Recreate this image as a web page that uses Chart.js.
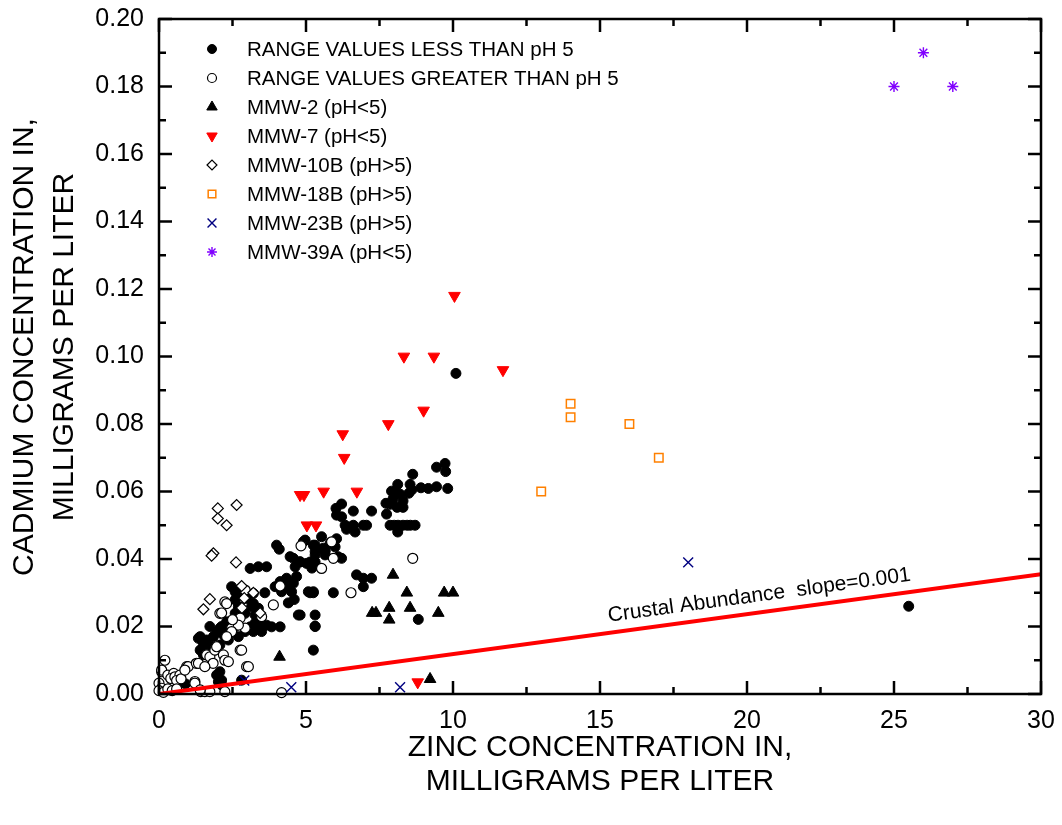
<!DOCTYPE html>
<html><head><meta charset="utf-8">
<script src="https://cdn.jsdelivr.net/npm/chart.js@4.4.1/dist/chart.umd.min.js"></script>
<style>html,body{margin:0;padding:0;background:#fff;} #wrap{width:1062px;height:825px;position:relative;}</style>
</head><body><div id="wrap"><canvas id="c" width="1062" height="825"></canvas></div>
<script>
const FONT = '"Liberation Sans", Arial, Helvetica, sans-serif';

// ---- text ----
const xTitleLines = ['ZINC CONCENTRATION IN,', 'MILLIGRAMS PER LITER'];
const yTitleLines = ['CADMIUM CONCENTRATION IN,', 'MILLIGRAMS PER LITER'];
const seriesNames = [
  'RANGE VALUES LESS THAN pH 5',
  'RANGE VALUES GREATER THAN pH 5',
  'MMW-2 (pH<5)',
  'MMW-7 (pH<5)',
  'MMW-10B (pH>5)',
  'MMW-18B (pH>5)',
  'MMW-23B (pH>5)',
  'MMW-39A (pH<5)'
];
const crustalLabel = 'Crustal Abundance  slope=0.001';

// ---- axes ----
const xMin = 0, xMax = 30, xStep = 5;
const yMin = 0, yMax = 0.20, yStep = 0.02;

// ---- data: [zinc, cadmium] ----
const rangeLow = [
 [9.73,0.0683],[9.44,0.0672],[9.75,0.0659],[8.63,0.0651],[8.12,0.0621],[8.54,0.0621],[8.91,0.0611],[9.16,0.0609],[9.44,0.0614],[9.82,0.0609],
 [7.91,0.0601],[8.03,0.0601],[8.2,0.0592],[7.96,0.0578],[8.3,0.0572],[7.86,0.0562],[8.1,0.0553],[8.3,0.0553],[8.5,0.0595],[8.6,0.0605],
 [7.72,0.0565],[7.74,0.0533],[7.86,0.050],[8.0,0.050],[8.13,0.050],[8.3,0.050],[8.44,0.050],[8.55,0.050],[8.71,0.050],[8.12,0.048],
 [6.02,0.055],[6.21,0.0563],[6.61,0.0542],[7.23,0.0542],[6.21,0.0525],[6.04,0.053],[6.33,0.050],[6.61,0.050],[6.67,0.048],[6.95,0.050],[7.06,0.050],[6.38,0.0488],[6.5,0.0495],
 [6.04,0.046],[5.82,0.0447],[5.99,0.0436],[5.65,0.0427],[5.53,0.0466],[6.09,0.0407],[6.21,0.0402],
 [4.97,0.0456],[5.25,0.0441],[5.59,0.0432],[5.31,0.0412],[5.65,0.0412],[5.14,0.0391],[5.31,0.0391],[4.8,0.0391],[5.2,0.0373],
 [4.0,0.0441],[4.09,0.0429],[4.91,0.0451],[5.31,0.0441],[5.31,0.0422],[5.65,0.0422],[4.57,0.0402],[4.8,0.0392],[5.02,0.0387],[5.31,0.0382],[4.46,0.0407],[4.63,0.0377],
 [3.1,0.0372],[3.38,0.0377],[3.66,0.0377],[2.47,0.0318],[2.64,0.0298],
 [4.12,0.0333],[4.29,0.0318],[4.57,0.0328],[4.68,0.0348],[3.95,0.0318],[4.17,0.0303],[4.51,0.0303],[4.34,0.0343],[5.08,0.0303],[5.25,0.0303],
 [3.6,0.030],[3.21,0.0298],[2.59,0.0303],[2.98,0.0283],[3.21,0.0268],[3.38,0.0254],[2.59,0.0279],[2.7,0.0259],[2.93,0.0239],[3.15,0.0259],[3.27,0.0234],[4.6,0.028],[4.4,0.027],
 [4.74,0.0234],[5.31,0.0234],[4.8,0.0234],[5.31,0.0201],[3.38,0.0204],[3.66,0.0204],[3.83,0.0199],[4.12,0.0199],[3.1,0.0199],[3.21,0.0185],
 [2.07,0.0195],[1.85,0.017],[1.62,0.016],[2.24,0.017],[2.36,0.016],[1.79,0.014],[1.9,0.013],[2.07,0.0145],[1.4,0.017],[1.5,0.014],[1.45,0.016],[1.73,0.020],[1.96,0.0185],[2.13,0.018],
 [2.02,0.0185],[2.24,0.018],[2.59,0.020],[2.7,0.017],[2.93,0.0185],[3.27,0.021],[3.49,0.0185],[1.4,0.013],[1.51,0.0116],[1.34,0.0165],
 [2.13,0.020],[2.3,0.0214],[2.59,0.0239],
 [5.25,0.013],[1.96,0.0056],[2.13,0.0041],[2.81,0.0041],[2.02,0.0036],[2.13,0.0027],[2.07,0.0066],[0.6,0.004],[0.9,0.003],
 [6.72,0.0353],[6.95,0.0343],[7.23,0.0343],[6.95,0.0318],[5.14,0.030],[5.25,0.030],[5.93,0.030],[5.31,0.020],[8.82,0.0221],
 [10.1,0.095],[25.5,0.026]
];
const rangeHigh = [
 [5.87,0.0451],[5.93,0.0402],[5.53,0.0372],[6.53,0.030],[8.63,0.0402],[4.83,0.0439],[4.12,0.032],[3.89,0.0264],
 [2.24,0.0273],[2.3,0.0268],[2.07,0.0239],[2.13,0.024],[3.49,0.0229],[2.76,0.0225],[2.93,0.0195],[2.47,0.0195],[2.7,0.0204],[2.47,0.0185],[2.3,0.017],[2.5,0.022],[2.93,0.0308],
 [2.76,0.013],[2.98,0.0081],[4.17,0.0004],
 [1.62,0.0116],[1.73,0.011],[1.9,0.013],[1.96,0.014],[2.19,0.0116],[2.24,0.010],[2.36,0.0096],[1.84,0.0091],[2.81,0.013],[3.04,0.0081],
 [0.2,0.010],[0.09,0.0066],[0.09,0.0071],[0.3,0.0056],[0.5,0.0061],[0.4,0.0046],[0.54,0.0051],[0.71,0.0056],[0.6,0.004],[0.75,0.0045],
 [0.94,0.0081],[0.99,0.0081],[0.88,0.0071],[1.27,0.0091],[1.34,0.0091],[1.56,0.0081],[1.22,0.0037],[1.22,0.0032],
 [1.42,0.0007],[1.56,0.0007],[1.73,0.0007],[2.24,0.0007],[0.0,0.0032],[0.09,0.0017],[0.0,0.001],[0.15,0.0005],[0.3,0.0015],[0.45,0.001],[0.6,0.0015],[1.4,0.0012]
];
const mmw2 = [
 [7.96,0.0353],[8.43,0.030],[9.7,0.030],[10.0,0.030],[7.25,0.024],[7.38,0.024],[7.83,0.0255],[7.83,0.022],[8.54,0.0255],[9.5,0.024],[9.22,0.0044],[4.1,0.011]
];
const mmw7 = [
 [4.8,0.059],[4.93,0.059],[5.03,0.050],[5.34,0.050],[5.6,0.060],[6.25,0.077],[6.3,0.070],[6.73,0.060],[7.8,0.080],[8.33,0.100],[9.0,0.084],[10.05,0.118],[9.35,0.100],[11.7,0.096],[8.8,0.0035]
];
const mmw10B = [
 [2.0,0.055],[2.64,0.056],[2.0,0.052],[2.3,0.050],[1.85,0.0417],[1.79,0.041],[2.62,0.039],[2.81,0.032],[3.21,0.030],[1.73,0.0281],[1.51,0.0251],[2.9,0.0284],[3.44,0.024],[2.82,0.0255]
];
const mmw18B = [[13,0.060],[14,0.082],[14,0.086],[16,0.080],[17,0.070]];
const mmw23B = [[2.9,0.004],[4.5,0.002],[8.2,0.002],[18,0.039]];
const mmw39A = [[25,0.18],[26,0.19],[27,0.18]];
const crustalLine = [[0,0],[30,0.0355]];
const crustalLabelAtX = 15.35;

const toXY = arr => arr.map(p => ({x: p[0], y: p[1]}));

const pointSpecs = [
 {pointStyle:'circle', radius:5, bg:'#000', border:'#000', bw:1, rot:0},
 {pointStyle:'circle', radius:5, bg:'#fff', border:'#000', bw:1.2, rot:0},
 {pointStyle:'triangle', radius:6.7, bg:'#000', border:'#000', bw:1, rot:0},
 {pointStyle:'triangle', radius:6.7, bg:'#ff0000', border:'#ff0000', bw:1, rot:180},
 {pointStyle:'rectRot', radius:5.5, bg:'#fff', border:'#000', bw:1.2, rot:0},
 {pointStyle:'rect', radius:6, bg:'#fff', border:'#ff8000', bw:1.5, rot:0},
 {pointStyle:'crossRot', radius:7, bg:'#000080', border:'#000080', bw:1.4, rot:0},
 {pointStyle:'star', radius:5.5, bg:'#8000ff', border:'#8000ff', bw:1.4, rot:0}
];
const seriesData = [rangeLow, rangeHigh, mmw2, mmw7, mmw10B, mmw18B, mmw23B, mmw39A];

const datasets = seriesData.map((d, i) => ({
  label: seriesNames[i],
  data: toXY(d),
  pointStyle: pointSpecs[i].pointStyle,
  pointRadius: pointSpecs[i].radius,
  pointRotation: pointSpecs[i].rot,
  pointBackgroundColor: pointSpecs[i].bg,
  pointBorderColor: pointSpecs[i].border,
  pointBorderWidth: pointSpecs[i].bw,
  showLine: false,
  clip: false,
  order: 20 - i
}));
datasets.push({
  type: 'line',
  label: 'Crustal Abundance',
  data: toXY(crustalLine),
  borderColor: '#ff0000',
  borderWidth: 4,
  pointRadius: 0,
  fill: false,
  order: 1
});

const framePlugin = {
  id: 'frame',
  afterDraw(chart) {
    const {ctx, chartArea: a, scales: {x, y}} = chart;
    ctx.save();
    // crustal label
    const p0x = x.getPixelForValue(crustalLine[0][0]), p0y = y.getPixelForValue(crustalLine[0][1]);
    const p1x = x.getPixelForValue(crustalLine[1][0]), p1y = y.getPixelForValue(crustalLine[1][1]);
    const ang = Math.atan2(p1y - p0y, p1x - p0x);
    const t = (crustalLabelAtX - crustalLine[0][0]) / (crustalLine[1][0] - crustalLine[0][0]);
    const lx = p0x + (p1x - p0x) * t, ly = p0y + (p1y - p0y) * t;
    ctx.translate(lx, ly); ctx.rotate(ang);
    ctx.fillStyle = '#000'; ctx.font = '21px ' + FONT;
    ctx.textAlign = 'left'; ctx.textBaseline = 'alphabetic';
    ctx.fillText(crustalLabel, 0, -11);
    ctx.setTransform(1,0,0,1,0,0);

    // frame
    ctx.strokeStyle = '#000'; ctx.lineWidth = 2.5; ctx.lineCap = 'butt';
    ctx.strokeRect(a.left, a.top, a.right - a.left, a.bottom - a.top);
    const seg = (x1,y1,x2,y2) => { ctx.beginPath(); ctx.moveTo(x1,y1); ctx.lineTo(x2,y2); ctx.stroke(); };
    const nx = Math.round((xMax - xMin) / (xStep / 2));
    for (let i = 0; i <= nx; i++) {
      const v = xMin + i * xStep / 2;
      const px = x.getPixelForValue(v);
      const len = (i % 2 === 0) ? 13 : 7;
      seg(px, a.bottom, px, a.bottom - len);
      seg(px, a.top, px, a.top + len);
    }
    const ny = Math.round((yMax - yMin) / (yStep / 2));
    for (let i = 0; i <= ny; i++) {
      const v = yMin + i * yStep / 2;
      const py = y.getPixelForValue(v);
      const len = (i % 2 === 0) ? 13 : 7;
      seg(a.left, py, a.left + len, py);
      seg(a.right, py, a.right - len, py);
    }

    // legend
    const lgX = 212, lgTextX = 247, lgY0 = 49, lgDy = 29;
    ctx.font = '20.5px ' + FONT; ctx.textAlign = 'left'; ctx.textBaseline = 'alphabetic';
    seriesNames.forEach((name, i) => {
      const s = pointSpecs[i];
      const cy = lgY0 + i * lgDy;
      ctx.save();
      ctx.fillStyle = s.bg; ctx.strokeStyle = s.border; ctx.lineWidth = s.bw;
      Chart.helpers.drawPoint(ctx, {pointStyle: s.pointStyle, radius: s.radius * 0.9, rotation: s.rot, borderWidth: s.bw}, lgX, cy);
      ctx.restore();
      ctx.fillStyle = '#000';
      ctx.fillText(name, lgTextX, cy + 7.3);
    });

    // axis titles
    ctx.fillStyle = '#000'; ctx.font = '30px ' + FONT; ctx.textAlign = 'center'; ctx.textBaseline = 'alphabetic';
    const cx = (a.left + a.right) / 2;
    ctx.fillText(xTitleLines[0], cx, 756);
    ctx.fillText(xTitleLines[1], cx, 790);
    const cyc = 347;
    ctx.save(); ctx.translate(33, cyc); ctx.rotate(-Math.PI/2); ctx.fillText(yTitleLines[0], 0, 0); ctx.restore();
    ctx.save(); ctx.translate(73, cyc); ctx.rotate(-Math.PI/2); ctx.fillText(yTitleLines[1], 0, 0); ctx.restore();
    ctx.restore();
  }
};

new Chart(document.getElementById('c'), {
  type: 'scatter',
  data: { datasets },
  options: {
    responsive: false,
    animation: false,
    events: [],
    layout: { autoPadding: false, padding: { top: 19, right: 21, left: 0, bottom: 0 } },
    plugins: { legend: { display: false }, tooltip: { enabled: false }, title: { display: false } },
    scales: {
      x: {
        type: 'linear', min: xMin, max: xMax,
        ticks: { stepSize: xStep, color: '#000', font: { size: 25, family: FONT }, padding: 12, maxRotation: 0,
                 callback: v => String(v) },
        grid: { display: false, drawTicks: false },
        border: { display: false },
        afterFit: s => { s.height = 131; s.paddingLeft = 0; s.paddingRight = 0; s.paddingTop = 0; s.paddingBottom = 0; }
      },
      y: {
        type: 'linear', min: yMin, max: yMax,
        ticks: { stepSize: yStep, color: '#000', font: { size: 25, family: FONT }, padding: 15,
                 callback: v => Number(v).toFixed(2) },
        grid: { display: false, drawTicks: false },
        border: { display: false },
        afterFit: s => { s.width = 159; s.paddingLeft = 0; s.paddingRight = 0; s.paddingTop = 0; s.paddingBottom = 0; }
      }
    }
  },
  plugins: [framePlugin]
});
</script>
</body></html>
